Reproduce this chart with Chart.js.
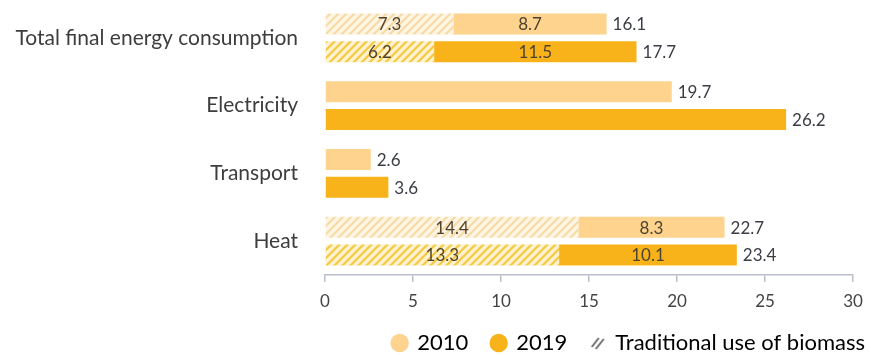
<!DOCTYPE html>
<html>
<head>
<meta charset="utf-8">
<script src="https://cdn.jsdelivr.net/npm/chart.js@4/dist/chart.umd.min.js"></script>
<style>
  html, body { margin: 0; padding: 0; background: #fff; }
  #wrap { width: 871px; height: 355px; position: relative; }
</style>
</head>
<body>
<div id="wrap"><canvas id="chart"></canvas></div>
<script>
// values
const categories = ["Total final energy consumption", "Electricity", "Transport", "Heat"];
const trad2010 = [7.3, 0, 0, 14.4];
const modern2010 = [8.7, 19.7, 2.6, 8.3];
const trad2019 = [6.2, 0, 0, 13.3];
const modern2019 = [11.5, 26.2, 3.6, 10.1];
const total2010 = [16.1, 19.7, 2.6, 22.7];
const total2019 = [17.7, 26.2, 3.6, 23.4];
const xTicks = [0, 5, 10, 15, 20, 25, 30];

const light = "#fdd38d";
const gold = "#f9b31a";

function hatch(bg, stripe) {
  const c = document.createElement("canvas");
  c.width = 8; c.height = 8;
  const g = c.getContext("2d");
  g.fillStyle = bg;
  g.fillRect(0, 0, 8, 8);
  g.strokeStyle = stripe;
  g.lineWidth = 2.2;
  g.beginPath();
  g.moveTo(0, 8); g.lineTo(8, 0);
  g.moveTo(-2, 2); g.lineTo(2, -2);
  g.moveTo(6, 10); g.lineTo(10, 6);
  g.stroke();
  return g.createPattern(c, "repeat");
}

function hatchIcon() {
  const c = document.createElement("canvas");
  c.width = 16; c.height = 16;
  const g = c.getContext("2d");
  g.strokeStyle = "#6b6b6b";
  g.lineWidth = 2;
  g.beginPath();
  g.moveTo(2, 12); g.lineTo(9, 3);
  g.moveTo(6, 14); g.lineTo(14, 4);
  g.stroke();
  return c;
}

const hatch2010 = hatch("#fff5e4", "#f6dba6");
const hatch2019 = hatch("#fff2cc", "#f5c845");

// segment values inside the bars, totals after the bar ends
const valueLabels = {
  id: "valueLabels",
  afterDatasetsDraw(chart) {
    const ctx = chart.ctx;
    ctx.save();
    ctx.textBaseline = "middle";
    ctx.font = "17px Lato";
    const pairs = [[0, 1, total2010], [2, 3, total2019]];
    pairs.forEach(([ti, mi, totals]) => {
      const tMeta = chart.getDatasetMeta(ti);
      const mMeta = chart.getDatasetMeta(mi);
      categories.forEach((c, j) => {
        const tv = chart.data.datasets[ti].data[j];
        const mv = chart.data.datasets[mi].data[j];
        const tb = tMeta.data[j];
        const mb = mMeta.data[j];
        if (tv > 0) {
          ctx.fillStyle = "#4e4330";
          ctx.textAlign = "center";
          ctx.fillText(tv.toFixed(1), (tb.x + tb.base) / 2, tb.y + 1);
          ctx.fillText(mv.toFixed(1), (mb.x + mb.base) / 2, mb.y + 1);
        }
        ctx.fillStyle = "#3b3d45";
        ctx.textAlign = "left";
        ctx.fillText(totals[j].toFixed(1), mb.x + 6, mb.y + 1);
      });
    });
    ctx.restore();
  }
};

new Chart(document.getElementById("chart"), {
  type: "bar",
  data: {
    labels: categories,
    datasets: [
      { label: "2010 traditional", data: trad2010, stack: "2010", backgroundColor: hatch2010 },
      { label: "2010", data: modern2010, stack: "2010", backgroundColor: light },
      { label: "2019 traditional", data: trad2019, stack: "2019", backgroundColor: hatch2019 },
      { label: "2019", data: modern2019, stack: "2019", backgroundColor: gold }
    ]
  },
  options: {
    indexAxis: "y",
    responsive: true,
    maintainAspectRatio: false,
    animation: false,
    categoryPercentage: 0.82,
    barPercentage: 0.75,
    layout: { padding: { top: 4, right: -18, bottom: -9, left: 0 } },
    scales: {
      x: {
        stacked: true,
        min: 0,
        max: 30,
        afterBuildTicks(axis) { axis.ticks = xTicks.map(v => ({ value: v })); },
        afterFit(axis) { axis.paddingRight = 18; axis.height = 33; },
        grid: { display: true, drawOnChartArea: false, drawTicks: true, tickLength: 7, color: "#b9bdcc", lineWidth: 1.5 },
        border: { display: true, color: "#b9bdcc", width: 1.5 },
        ticks: { color: "#444", font: { family: "Lato", size: 17 }, padding: 9 }
      },
      y: {
        stacked: true,
        afterFit(axis) { axis.width = 325; axis.paddingTop = 0; axis.paddingBottom = 0; },
        grid: { display: false },
        border: { display: false },
        ticks: { color: "#3d3d3d", font: { family: "Lato", size: 21 }, padding: 19 }
      }
    },
    plugins: {
      tooltip: { enabled: false },
      legend: {
        position: "bottom",
        align: "end",
        onClick: null,
        labels: {
          usePointStyle: true,
          boxWidth: 13,
          boxHeight: 13,
          padding: 24,
          color: "#444",
          font: { family: "Lato", size: 22 },
          generateLabels() {
            return [
              { text: "2010", fillStyle: light, strokeStyle: light, lineWidth: 0, pointStyle: "circle" },
              { text: "2019", fillStyle: gold, strokeStyle: gold, lineWidth: 0, pointStyle: "circle" },
              { text: "Traditional use of biomass", fillStyle: "#fff", strokeStyle: "#fff", lineWidth: 0, pointStyle: hatchIcon() }
            ];
          }
        }
      }
    }
  },
  plugins: [valueLabels]
});
</script>
</body>
</html>
